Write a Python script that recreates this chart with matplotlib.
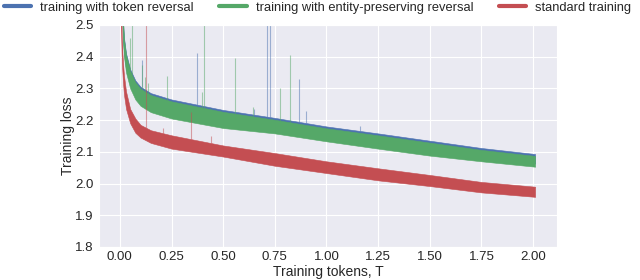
import matplotlib
matplotlib.use("Agg")
import matplotlib.pyplot as plt
import numpy as np
import seaborn as sns

# band edges (training tokens in T, loss)
tokens = [0.005, 0.01, 0.015, 0.02, 0.03, 0.05, 0.075, 0.1, 0.15, 0.25,
          0.5, 0.75, 1.0, 1.25, 1.5, 1.75, 2.01]

token_rev_upper = [2.90, 2.62, 2.52, 2.46, 2.41, 2.36, 2.325, 2.305, 2.285, 2.265,
                   2.232, 2.207, 2.180, 2.158, 2.135, 2.112, 2.093]
token_rev_lower = [2.81, 2.56, 2.46, 2.41, 2.36, 2.31, 2.275, 2.255, 2.235, 2.215,
                   2.185, 2.168, 2.143, 2.120, 2.098, 2.080, 2.063]

entity_rev_upper = [2.895, 2.615, 2.515, 2.455, 2.405, 2.355, 2.319, 2.299, 2.279, 2.259,
                    2.226, 2.201, 2.174, 2.152, 2.129, 2.106, 2.087]
entity_rev_lower = [2.80, 2.55, 2.45, 2.40, 2.35, 2.30, 2.265, 2.245, 2.225, 2.205,
                    2.175, 2.158, 2.133, 2.110, 2.088, 2.070, 2.053]

standard_upper = [2.60, 2.44, 2.38, 2.34, 2.29, 2.235, 2.205, 2.185, 2.168, 2.152,
                  2.120, 2.096, 2.070, 2.048, 2.027, 2.005, 1.990]
standard_lower = [2.50, 2.38, 2.32, 2.28, 2.235, 2.19, 2.16, 2.145, 2.128, 2.110,
                  2.085, 2.056, 2.033, 2.010, 1.992, 1.972, 1.958]

# isolated loss spikes: position and peak
token_spike_x = [0.105, 0.372, 0.65, 0.71, 0.725, 0.866, 0.90, 1.16, 1.45]
token_spike_top = [2.39, 2.41, 2.235, 2.60, 2.60, 2.33, 2.23, 2.18, 2.14]
entity_spike_x = [0.047, 0.057, 0.105, 0.121, 0.137, 0.227, 0.40, 0.408, 0.557,
                  0.646, 0.777, 0.822]
entity_spike_top = [2.46, 2.60, 2.374, 2.335, 2.316, 2.338, 2.29, 2.60, 2.395,
                    2.24, 2.30, 2.405]
standard_spike_x = [0.125, 0.21, 0.343, 0.44]
standard_spike_top = [2.60, 2.174, 2.225, 2.15]

sns.set_style("darkgrid")
plt.rcParams["font.family"] = ["Liberation Sans", "DejaVu Sans"]

blue, green, red = "#4C72B0", "#55A868", "#C44E52"

fig = plt.figure(figsize=(6.4, 2.8), dpi=100)
ax = fig.add_axes([0.155, 0.118, 0.715, 0.793])

series = [
    ("training with token reversal", blue, token_rev_upper, token_rev_lower,
     token_spike_x, token_spike_top),
    ("training with entity-preserving reversal", green, entity_rev_upper,
     entity_rev_lower, entity_spike_x, entity_spike_top),
    ("standard training", red, standard_upper, standard_lower,
     standard_spike_x, standard_spike_top),
]

handles = []
for label, col, up, lo, sx, st in series:
    ax.fill_between(tokens, lo, up, color=col, lw=0.4, edgecolor=col)
    base = np.interp(sx, tokens, up)
    ax.vlines(sx, base, st, color=col, lw=0.8, alpha=0.5)
    h, = ax.plot([], [], color=col, lw=3, label=label)
    handles.append(h)

ax.set_xlim(-0.1, 2.115)
ax.set_ylim(1.8, 2.5)
ax.set_xticks([0, 0.25, 0.5, 0.75, 1.0, 1.25, 1.5, 1.75, 2.0])
ax.set_xticklabels(["0.00", "0.25", "0.50", "0.75", "1.00", "1.25", "1.50", "1.75", "2.00"])
ax.tick_params(labelsize=9.5, colors="#262626", length=0)
ax.tick_params(axis="x", pad=3)
ax.tick_params(axis="y", pad=4)
ax.set_xlabel("Training tokens, T", fontsize=10, color="#262626", labelpad=1)
ax.set_ylabel("Training loss", fontsize=10, color="#262626", labelpad=0)

fig.legend(handles=handles, loc="upper left", bbox_to_anchor=(-0.012, 1.035),
           ncol=3, frameon=False, fontsize=9.3, handlelength=2.1,
           handletextpad=0.7, columnspacing=2.0)

fig.savefig("out.png", dpi=100)
